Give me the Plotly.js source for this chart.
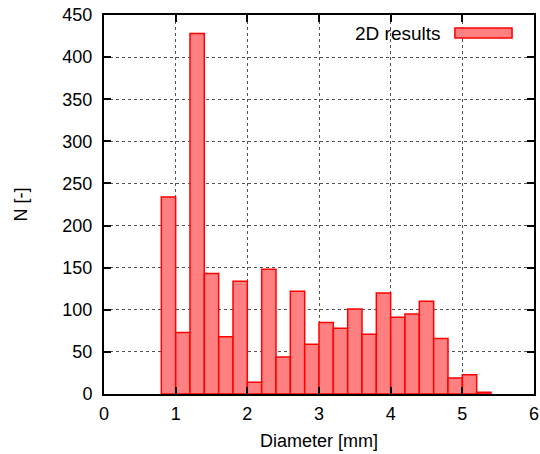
<!DOCTYPE html>
<html>
<head>
<meta charset="utf-8">
<script src="https://cdn.plot.ly/plotly-3.0.1.min.js"></script>
<style>html,body{margin:0;padding:0;background:#fff;}#chart{width:540px;height:454px;}</style>
</head>
<body>
<div id="chart"></div>
<script>
const binCenters = [0.9, 1.1, 1.3, 1.5, 1.7, 1.9, 2.1, 2.3, 2.5, 2.7, 2.9, 3.1, 3.3, 3.5, 3.7, 3.9, 4.1, 4.3, 4.5, 4.7, 4.9, 5.1, 5.3];
const counts = [234, 73, 428, 143, 68, 134, 14, 148, 44, 122, 59, 85, 78, 101, 71, 120, 91, 95, 110, 66, 19, 23, 2];
const binWidth = 0.2;
const seriesName = "2D results";
const xTicks = [0, 1, 2, 3, 4, 5, 6];
const yTicks = [0, 50, 100, 150, 200, 250, 300, 350, 400, 450];

const font = {family: "Liberation Sans, Arial, sans-serif", size: 18, color: "#000"};

const trace = {
  type: "bar",
  x: binCenters,
  y: counts,
  width: binWidth,
  name: seriesName,
  marker: {color: "#ff8080", line: {color: "#ff0000", width: 1.5}},
  showlegend: false,
  hoverinfo: "x+y"
};

const axisCommon = {
  showline: true, linecolor: "#000", linewidth: 2, mirror: "allticks",
  ticks: "inside", ticklen: 7, tickwidth: 2, tickcolor: "#000",
  showgrid: true, gridcolor: "#555", gridwidth: 1, griddash: "dot",
  zeroline: false, tickfont: font, tickmode: "array"
};

const layout = {
  width: 540, height: 454,
  margin: {l: 104, r: 6, t: 15, b: 60},
  paper_bgcolor: "#fff", plot_bgcolor: "#fff",
  font: font,
  bargap: 0,
  xaxis: Object.assign({}, axisCommon, {
    range: [0, 6], tickvals: xTicks, ticktext: xTicks.map(String),
    ticklabelstandoff: 2,
    title: {text: "Diameter [mm]", font: font, standoff: 12}
  }),
  yaxis: Object.assign({}, axisCommon, {
    range: [0, 450], tickvals: yTicks, ticktext: yTicks.map(String),
    ticklabelstandoff: 6,
    title: {text: "N [-]", font: font, standoff: 30}
  }),
  annotations: [{
    xref: "paper", yref: "paper", x: 0.788, y: 0.9525, xanchor: "right", yanchor: "middle",
    text: seriesName, showarrow: false, font: {family: font.family, size: 19, color: "#000"}
  }],
  shapes: [{
    type: "rect", xref: "paper", yref: "paper",
    x0: 0.816, x1: 0.949, y0: 0.939, y1: 0.9657,
    fillcolor: "#ff8080", line: {color: "#ff0000", width: 1.5}
  }]
};

Plotly.newPlot("chart", [trace], layout, {displayModeBar: false, staticPlot: true});
</script>
</body>
</html>
